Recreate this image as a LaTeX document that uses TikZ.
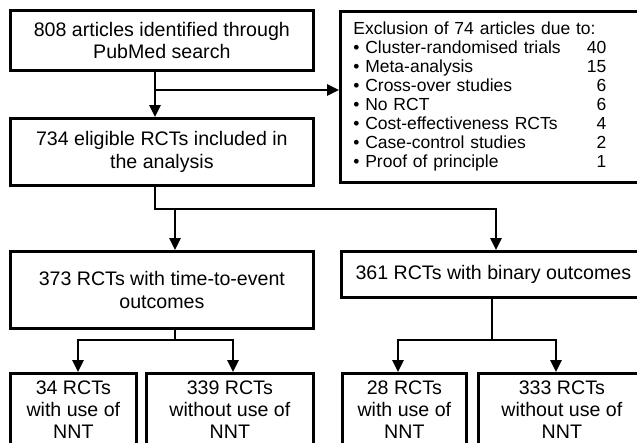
\documentclass[tikz,border=0pt]{standalone}
\usepackage{fontspec}
\setmainfont{Liberation Sans}
\usetikzlibrary{arrows.meta}
\begin{document}
\begin{tikzpicture}[x=1pt,y=-1pt,
 box/.style={draw,line width=2.7pt,inner sep=0pt,align=center,anchor=north west,
  font=\fontsize{19.6}{22.5}\selectfont},
 nntbox/.style={box,minimum height=73pt,font=\fontsize{19.6}{22}\selectfont},
 arr/.style={line width=2.5pt,-{Triangle[length=12pt,width=11pt]}}]
 \clip (0,0) rectangle (637,442);
 \useasboundingbox (0,0) rectangle (637,442);
 % top row
 \node[box,minimum width=303pt,minimum height=60pt] (search) at (9,9)
  {808 articles identified through\\PubMed search};
 \node[box,minimum width=305pt,minimum height=171pt,inner xsep=13pt,text width=279pt,
  align=left,font=\fontsize{17.5}{19}\selectfont] (excl) at (339,10)
  {\begin{tabular*}{253pt}{@{}l@{\extracolsep{\fill}}r@{}}
   \multicolumn{2}{@{}l@{}}{Exclusion of 74 articles due to:}\\
   • Cluster-randomised trials & 40\\
   • Meta-analysis & 15\\
   • Cross-over studies & 6\\
   • No RCT & 6\\
   • Cost-effectiveness RCTs & 4\\
   • Case-control studies & 2\\
   • Proof of principle & 1
  \end{tabular*}};
 \node[box,minimum width=303pt,minimum height=67pt] (elig) at (9,117)
  {734 eligible RCTs included in\\the analysis};
 % outcome type
 \node[box,minimum width=303pt,minimum height=77pt] (tte) at (9,250)
  {373 RCTs with time-to-event\\outcomes};
 \node[box,minimum width=304pt,minimum height=46pt] (bin) at (340,250)
  {361 RCTs with binary outcomes};
 % use of NNT
 \node[nntbox,minimum width=126pt] (tteyes) at (9,372)
  {34 RCTs\\with use of\\NNT};
 \node[nntbox,minimum width=167pt] (tteno) at (145,372)
  {339 RCTs\\without use of\\NNT};
 \node[nntbox,minimum width=124pt] (binyes) at (341,372)
  {28 RCTs\\with use of\\NNT};
 \node[nntbox,minimum width=167pt] (binno) at (477,372)
  {333 RCTs\\without use of\\NNT};
 % connectors
 \coordinate (j0) at (155,90);
 \draw[arr] (search.south -| j0) -- (elig.north -| j0);
 \draw[arr] (j0) -- (j0 -| excl.west);
 \coordinate (j1) at (155,209); \coordinate (c1) at (175,209); \coordinate (d1) at (496,209);
 \draw[arr] (elig.south -| j1) |- (d1) -- (bin.north -| d1);
 \draw[arr] (c1) -- (tte.north -| c1);
 \coordinate (c2) at (175,340); \coordinate (e2) at (78,340); \coordinate (f2) at (233,340);
 \draw[arr] (tte.south -| c2) |- (e2) -- (tteyes.north -| e2);
 \draw[arr] (c2) -| (tteno.north -| f2);
 \coordinate (d2) at (492,340); \coordinate (g2) at (398,340); \coordinate (h2) at (556,340);
 \draw[arr] (bin.south -| d2) |- (g2) -- (binyes.north -| g2);
 \draw[arr] (d2) -| (binno.north -| h2);
\end{tikzpicture}
\end{document}
